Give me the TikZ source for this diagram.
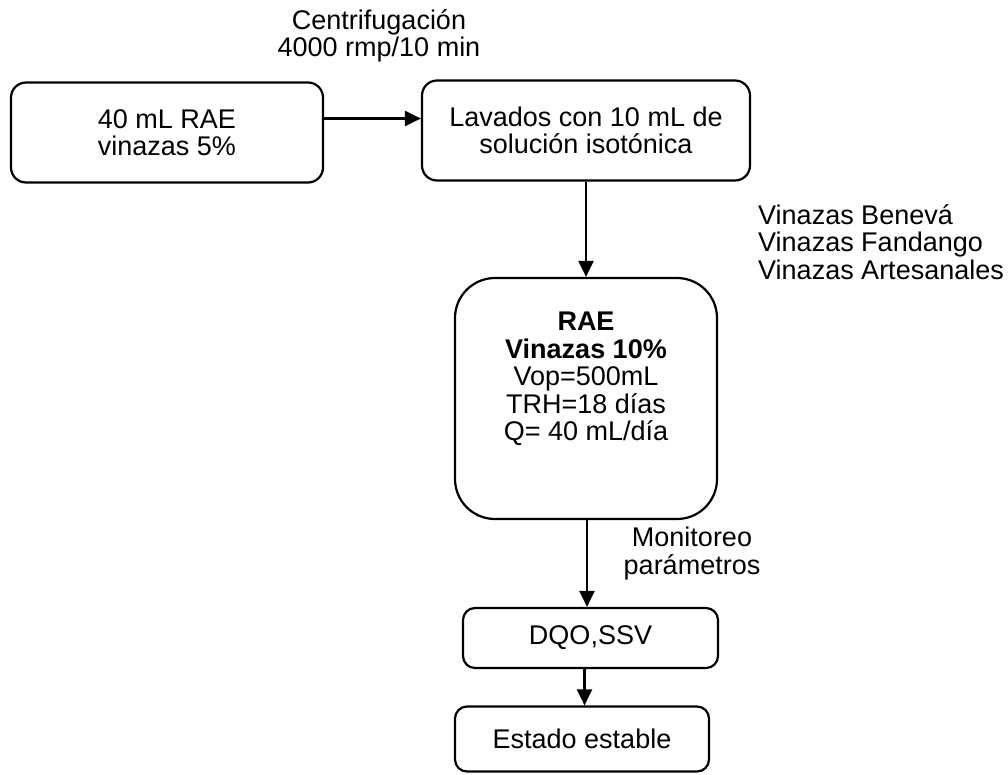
\documentclass[tikz,border=0pt]{standalone}
\usepackage{fontspec}
\setmainfont{Liberation Sans}
\usetikzlibrary{arrows.meta}
\begin{document}
\begin{tikzpicture}[x=1pt,y=-1pt,
  every node/.style={font=\fontsize{27}{27.5}\selectfont},
  box/.style={draw, line width=2.2pt, rounded corners=15pt, align=center, inner sep=0pt},
  flow/.style={line width=2.2pt, -{Triangle[length=16pt,width=15pt]}},
  lbl/.style={align=center, inner sep=0pt}]
\useasboundingbox (0,0) rectangle (1008,774);

% process boxes
\node[box, minimum width=312, minimum height=100] (inoc) at (167,132.5) {40 mL RAE\\vinazas 5\%};
\node[box, minimum width=328, minimum height=100] (lav) at (586,130.5) {Lavados con 10 mL de\\solución isotónica};
\node[box, rounded corners=40pt, minimum width=262, minimum height=241] (rae) at (586,398.5) {};
\node[lbl, anchor=north] (raetxt) at (586,312) {\textbf{RAE}\\\textbf{Vinazas 10\%}\\Vop=500mL\\TRH=18 días\\Q= 40 mL/día};
\node[box, rounded corners=12pt, minimum width=255, minimum height=60] (dqo) at (590.5,638) {DQO,SSV};
\node[box, rounded corners=12pt, minimum width=254, minimum height=65] (est) at (582,739) {Estado estable};

% side labels
\node[lbl] (centr) at (379,36) {Centrifugación\\4000 rmp/10 min};
\node[lbl, anchor=north west, align=left] (vin) at (758,204) {Vinazas Benevá\\Vinazas Fandango\\Vinazas Artesanales};
\node[lbl, anchor=north] (mon) at (692,527) {Monitoreo\\parámetros};

% connectors
\draw[flow] ([yshift=14pt]inoc.east) -- ([yshift=14pt]inoc.east -| lav.west);
\draw[flow] (lav.south) -- (rae.north);
\draw[flow] ([xshift=1pt]rae.south) -- ([xshift=1pt]rae.south |- dqo.north);
\draw[flow] ([xshift=-6pt]dqo.south) -- ([xshift=-6pt]dqo.south |- est.north);
\end{tikzpicture}
\end{document}
